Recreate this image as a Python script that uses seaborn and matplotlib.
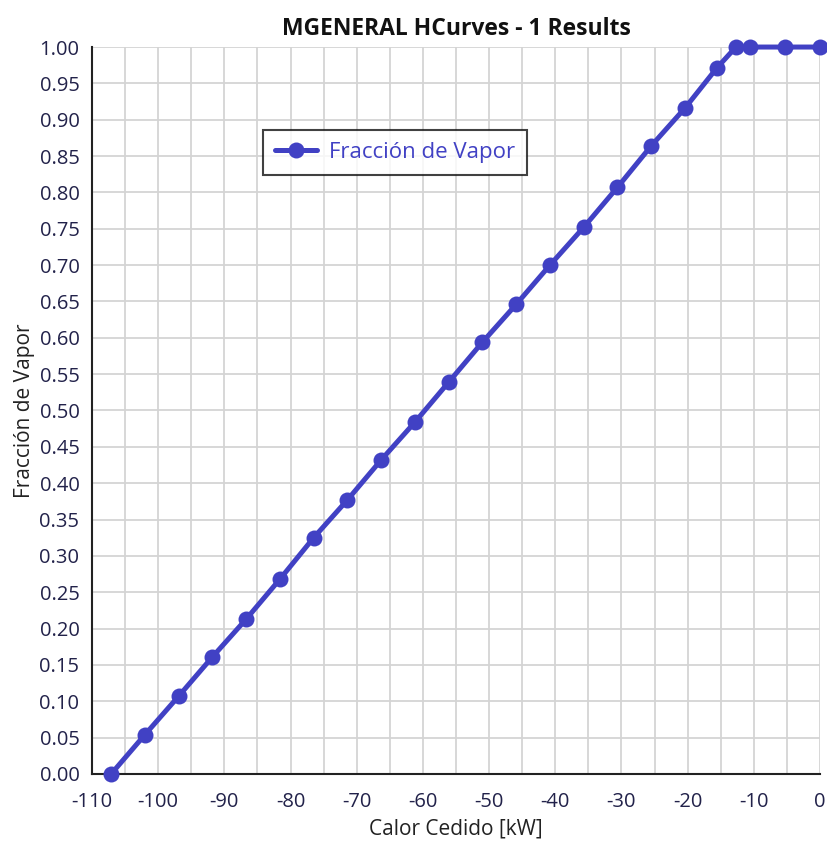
import matplotlib
matplotlib.use("Agg")
import matplotlib.pyplot as plt
import seaborn as sns
import pandas as pd
import numpy as np

calor = [-107.1, -102.0, -96.9, -91.8, -86.7, -81.6, -76.5, -71.4, -66.3, -61.2,
         -56.1, -51.0, -45.9, -40.8, -35.7, -30.6, -25.5, -20.4, -15.6, -12.7,
         -10.5, -5.3, 0.0]
fraccion = [0.000, 0.054, 0.107, 0.161, 0.213, 0.268, 0.325, 0.377, 0.432, 0.484,
            0.539, 0.594, 0.646, 0.700, 0.752, 0.807, 0.864, 0.916, 0.971, 1.000,
            1.000, 1.000, 1.000]
series_name = "Fracción de Vapor"
title = "MGENERAL HCurves - 1 Results"
xlabel = "Calor Cedido [kW]"
ylabel = "Fracción de Vapor"

df = pd.DataFrame({"x": calor, "y": fraccion, "s": series_name})

sns.set_style("white")
plt.rcParams["font.family"] = ["Open Sans", "DejaVu Sans"]
plt.rcParams["axes.unicode_minus"] = False

fig = plt.figure(figsize=(8.27, 8.43), dpi=100)
ax = fig.add_axes([0.1112, 0.0819, 0.8803, 0.8623])

color = "#4141C4"
sns.lineplot(data=df, x="x", y="y", hue="s", palette=[color], marker="o",
             markersize=11.5, linewidth=3.6, markeredgewidth=0, ax=ax, sort=False)
for ln in ax.lines:
    ln.set_clip_on(False)
    ln.set_zorder(5)

ax.set_xlim(-110, 0)
ax.set_ylim(0, 1)
ax.set_xticks(np.arange(-110, 1, 10))
ax.set_xticks(np.arange(-110, 1, 5), minor=True)
ax.set_yticks(np.round(np.arange(0, 1.0001, 0.05), 2))
ax.set_yticklabels([f"{v:.2f}" for v in np.arange(0, 1.0001, 0.05)])
ax.grid(True, which="both", color="#d4d4d4", linewidth=1.3)
ax.set_axisbelow(True)
for s in ["top", "right"]:
    ax.spines[s].set_visible(False)
for s in ["left", "bottom"]:
    ax.spines[s].set_color("#222222")
    ax.spines[s].set_linewidth(1.5)
    ax.spines[s].set_zorder(3)
ax.tick_params(axis="both", which="both", direction="out", length=6, width=1.5,
               color="#222222", labelsize=14.5, labelcolor="#22224a", pad=3)
ax.tick_params(axis="x", which="major", pad=7)
ax.tick_params(axis="x", which="minor", length=6)

ax.set_title(title, fontsize=16.5, fontweight="bold", color="#111111", pad=9)
ax.set_xlabel(xlabel, fontsize=15, color="#222222", labelpad=5)
ax.set_ylabel(ylabel, fontsize=15, color="#222222", labelpad=3)

leg = ax.legend(loc="upper left", bbox_to_anchor=(0.235, 0.886), frameon=True,
                fancybox=False, edgecolor="#111111", fontsize=16,
                handlelength=1.9, handletextpad=0.5, borderpad=0.55, borderaxespad=0)
leg.get_frame().set_linewidth(1.5)
for t in leg.get_texts():
    t.set_color(color)

fig.savefig("out.png", dpi=100)
